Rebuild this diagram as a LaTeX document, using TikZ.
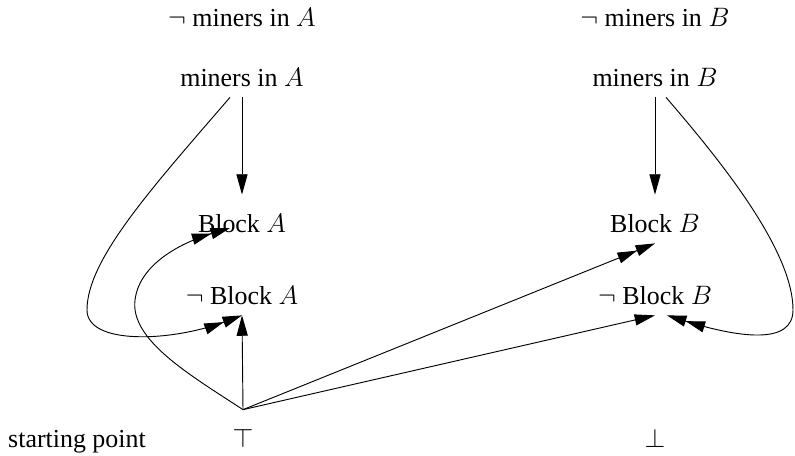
\documentclass[tikz,border=0pt]{standalone}
\usepackage{fontspec}
\setmainfont{Liberation Serif}
\usetikzlibrary{arrows.meta,calc}
\newcommand\lowtxt[1]{\raisebox{-2.6pt}{#1}}
\begin{document}
\begin{tikzpicture}[x=0.54pt,y=-0.54pt,
  lbl/.style={inner sep=0pt, minimum height=25.92pt, text height=9.5pt, text depth=0pt,
              font=\fontsize{14}{17}\selectfont},
  edge/.style={line width=0.5pt},
  sarr/.style={edge,-{Triangle[length=11pt,width=6pt]}},
  darr/.style={edge,-{Triangle[length=10.5pt,width=6pt]Triangle[length=10.5pt,width=6pt]}}]
\useasboundingbox (0,0) rectangle (795,455);
% nodes
\node[lbl] (nmA) at (242,12.5) {\lowtxt{$\neg$ miners in $A$}};
\node[lbl] (mA)  at (242,73) {\lowtxt{miners in $A$}};
\node[lbl] (bA)  at (242,219) {\lowtxt{Block $A$}};
\node[lbl] (nbA) at (242,291) {\lowtxt{$\neg$ Block $A$}};
\node[lbl] (top) at (243,434) {\lowtxt{$\top$}};
\node[lbl] (start) at (77,434) {\lowtxt{starting point}};
\node[lbl] (nmB) at (655,12.5) {\lowtxt{$\neg$ miners in $B$}};
\node[lbl] (mB)  at (655,73) {\lowtxt{miners in $B$}};
\node[lbl] (bB)  at (655,219) {\lowtxt{Block $B$}};
\node[lbl] (nbB) at (655,291) {\lowtxt{$\neg$ Block $B$}};
\node[lbl] (bot) at (655,434) {\lowtxt{$\bot$}};
% straight edges
\draw[sarr] (mA.south) -- (bA.north);
\draw[sarr] (mB.south) -- (bB.north);
\draw[sarr] (top.north) -- (nbA.south);
\draw[sarr] (top.north) -- (nbB.south);
\draw[darr] (top.north) -- (bB.south);
% curved edges
\draw[darr] ($(mA.south)+(-12,0)$) .. controls (150,190) and (87,260) .. (87,310)
  .. controls (87,345) and (170,342) .. (nbA.south);
\draw[darr] (top.north) .. controls (190,375) and (130,340) .. (135,300)
  .. controls (140,260) and (190,240) .. ($(bA.center)+(-12,9)$);
\draw[darr] ($(mB.south)+(11,0)$) .. controls (720,160) and (793,250) .. (793,310)
  .. controls (793,345) and (740,338) .. ($(nbB.south)+(12,0)$);
\end{tikzpicture}
\end{document}
